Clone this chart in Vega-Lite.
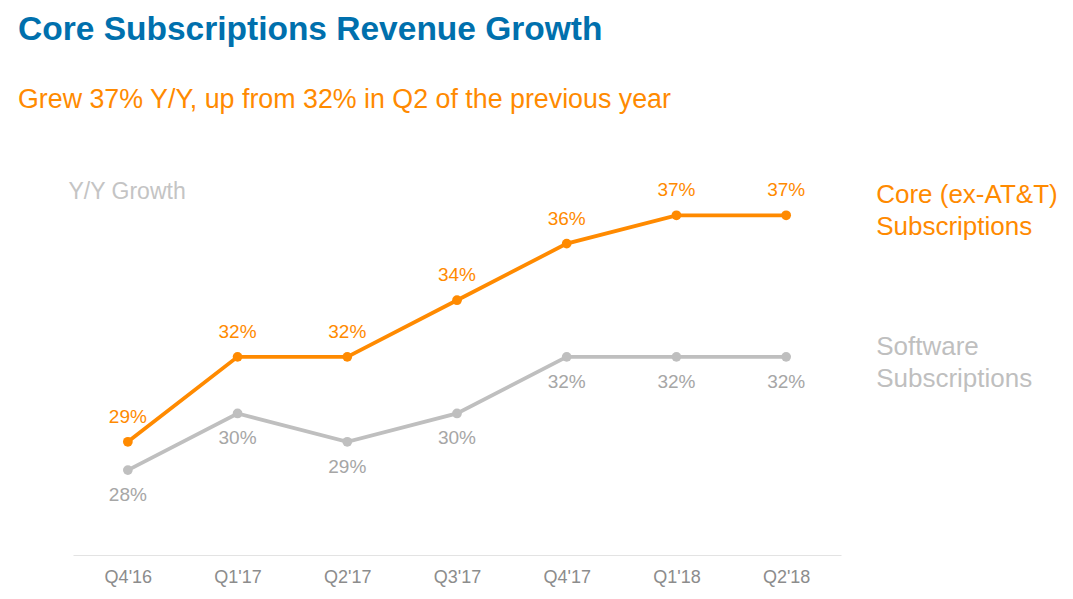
{
  "$schema": "https://vega.github.io/schema/vega-lite/v6.json",
  "width": 768,
  "height": 368,
  "autosize": {"type": "none"},
  "padding": {"left": 73, "top": 187, "right": 232, "bottom": 44},
  "background": "white",
  "config": {"view": {"stroke": null}, "font": "Liberation Sans"},
  "title": {
    "text": "Core Subscriptions Revenue Growth",
    "subtitle": "Grew 37% Y/Y, up from 32% in Q2 of the previous year",
    "anchor": "start",
    "frame": "group",
    "dx": -55,
    "offset": 65,
    "font": "Liberation Sans",
    "fontSize": 33.5,
    "fontWeight": "bold",
    "color": "#0070AD",
    "subtitleFont": "Liberation Sans",
    "subtitleFontSize": 26.8,
    "subtitleColor": "#FF8A00",
    "subtitlePadding": 40
  },
  "data": {
    "values": [
      {"quarter": "Q4'16", "series": "Core", "name": "Core (ex-AT&T)\nSubscriptions", "value": 0.29},
      {"quarter": "Q1'17", "series": "Core", "name": "Core (ex-AT&T)\nSubscriptions", "value": 0.32},
      {"quarter": "Q2'17", "series": "Core", "name": "Core (ex-AT&T)\nSubscriptions", "value": 0.32},
      {"quarter": "Q3'17", "series": "Core", "name": "Core (ex-AT&T)\nSubscriptions", "value": 0.34},
      {"quarter": "Q4'17", "series": "Core", "name": "Core (ex-AT&T)\nSubscriptions", "value": 0.36},
      {"quarter": "Q1'18", "series": "Core", "name": "Core (ex-AT&T)\nSubscriptions", "value": 0.37},
      {"quarter": "Q2'18", "series": "Core", "name": "Core (ex-AT&T)\nSubscriptions", "value": 0.37},
      {"quarter": "Q4'16", "series": "Software", "name": "Software\nSubscriptions", "value": 0.28},
      {"quarter": "Q1'17", "series": "Software", "name": "Software\nSubscriptions", "value": 0.30},
      {"quarter": "Q2'17", "series": "Software", "name": "Software\nSubscriptions", "value": 0.29},
      {"quarter": "Q3'17", "series": "Software", "name": "Software\nSubscriptions", "value": 0.30},
      {"quarter": "Q4'17", "series": "Software", "name": "Software\nSubscriptions", "value": 0.32},
      {"quarter": "Q1'18", "series": "Software", "name": "Software\nSubscriptions", "value": 0.32},
      {"quarter": "Q2'18", "series": "Software", "name": "Software\nSubscriptions", "value": 0.32}
    ]
  },
  "encoding": {
    "x": {
      "field": "quarter",
      "type": "ordinal",
      "sort": null,
      "scale": {"type": "point", "padding": 0.5},
      "axis": {
        "title": null,
        "labelAngle": 0,
        "ticks": false,
        "domainColor": "#E3E3E3",
        "domainWidth": 1,
        "labelColor": "#8C8C8C",
        "labelFontSize": 18,
        "labelPadding": 13,
        "labelFont": "Liberation Sans"
      }
    },
    "y": {
      "field": "value",
      "type": "quantitative",
      "scale": {"domain": [0.25, 0.38], "zero": false, "nice": false},
      "axis": {
        "title": "Y/Y Growth",
        "titleAngle": 0,
        "titleX": -5,
        "titleY": 4,
        "titleAlign": "left",
        "titleBaseline": "middle",
        "titleFontSize": 23,
        "titleFontWeight": "normal",
        "titleColor": "#C4C4C4",
        "titleFont": "Liberation Sans",
        "domain": false,
        "ticks": false,
        "labels": false,
        "grid": false
      }
    },
    "color": {
      "field": "series",
      "type": "nominal",
      "scale": {"domain": ["Core", "Software"], "range": ["#FF8A00", "#BFBFBF"]},
      "legend": null
    }
  },
  "layer": [
    {"mark": {"type": "line", "strokeWidth": 3.8}},
    {"mark": {"type": "point", "filled": true, "opacity": 1, "size": 95}},
    {
      "transform": [{"filter": "datum.series === 'Core'"}],
      "mark": {"type": "text", "dy": -25, "fontSize": 19, "font": "Liberation Sans", "baseline": "middle"},
      "encoding": {"text": {"field": "value", "type": "quantitative", "format": ".0%"}, "color": {"value": "#FF8A00"}}
    },
    {
      "transform": [{"filter": "datum.series === 'Software'"}],
      "mark": {"type": "text", "dy": 25, "fontSize": 19, "font": "Liberation Sans", "baseline": "middle"},
      "encoding": {"text": {"field": "value", "type": "quantitative", "format": ".0%"}, "color": {"value": "#A6A6A6"}}
    },
    {
      "transform": [{"filter": "datum.quarter === \"Q2'18\" && datum.series === 'Core'"}],
      "mark": {"type": "text", "align": "left", "baseline": "middle", "dx": 90, "dy": -20, "fontSize": 26, "lineHeight": 32, "lineBreak": "\n", "font": "Liberation Sans"},
      "encoding": {"text": {"field": "name"}}
    },
    {
      "transform": [{"filter": "datum.quarter === \"Q2'18\" && datum.series === 'Software'"}],
      "mark": {"type": "text", "align": "left", "baseline": "middle", "dx": 90, "dy": -10, "fontSize": 26, "lineHeight": 32, "lineBreak": "\n", "font": "Liberation Sans"},
      "encoding": {"text": {"field": "name"}}
    }
  ]
}
